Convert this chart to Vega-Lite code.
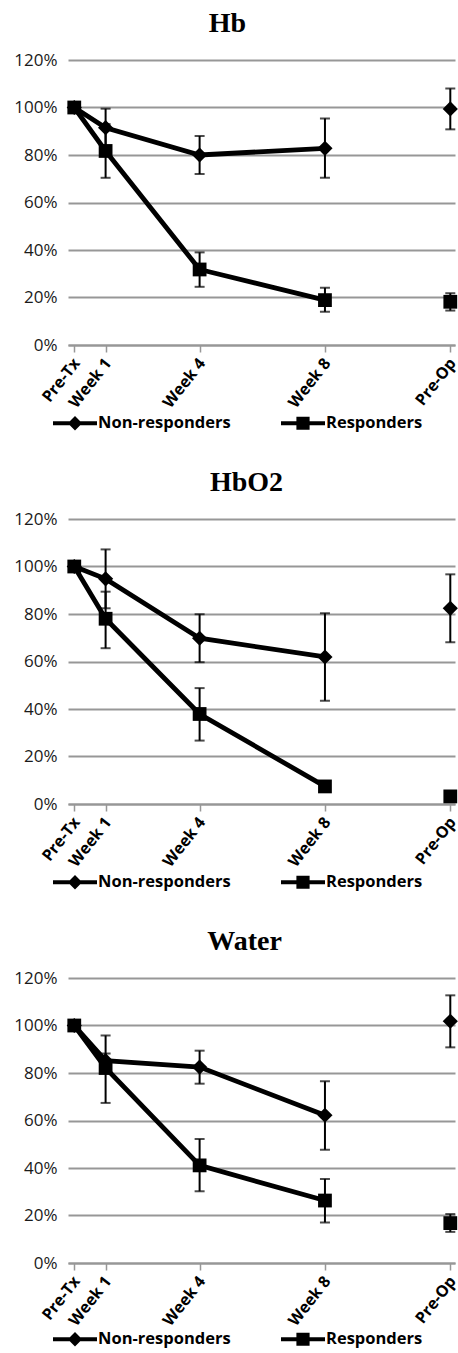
{
  "$schema": "https://vega.github.io/schema/vega-lite/v6.json",
  "padding": {"left": 8, "top": 10, "right": 3, "bottom": 0},
  "background": "white",
  "data": {"values": [
    {"panel": "Hb", "group": "Non-responders", "week": 0, "value": 1.0, "lo": null, "hi": null},
    {"panel": "Hb", "group": "Non-responders", "week": 1, "value": 0.915, "lo": 0.835, "hi": 0.995},
    {"panel": "Hb", "group": "Non-responders", "week": 4, "value": 0.80, "lo": 0.72, "hi": 0.88},
    {"panel": "Hb", "group": "Non-responders", "week": 8, "value": 0.828, "lo": 0.704, "hi": 0.954},
    {"panel": "Hb", "group": "Non-responders", "week": 12, "value": 0.994, "lo": 0.908, "hi": 1.08},
    {"panel": "Hb", "group": "Responders", "week": 0, "value": 1.0, "lo": null, "hi": null},
    {"panel": "Hb", "group": "Responders", "week": 1, "value": 0.817, "lo": 0.704, "hi": 0.93},
    {"panel": "Hb", "group": "Responders", "week": 4, "value": 0.318, "lo": 0.245, "hi": 0.39},
    {"panel": "Hb", "group": "Responders", "week": 8, "value": 0.189, "lo": 0.14, "hi": 0.241},
    {"panel": "Hb", "group": "Responders", "week": 12, "value": 0.182, "lo": 0.145, "hi": 0.218},
    {"panel": "HbO2", "group": "Non-responders", "week": 0, "value": 1.0, "lo": null, "hi": null},
    {"panel": "HbO2", "group": "Non-responders", "week": 1, "value": 0.948, "lo": 0.824, "hi": 1.072},
    {"panel": "HbO2", "group": "Non-responders", "week": 4, "value": 0.698, "lo": 0.597, "hi": 0.799},
    {"panel": "HbO2", "group": "Non-responders", "week": 8, "value": 0.619, "lo": 0.435, "hi": 0.803},
    {"panel": "HbO2", "group": "Non-responders", "week": 12, "value": 0.824, "lo": 0.681, "hi": 0.967},
    {"panel": "HbO2", "group": "Responders", "week": 0, "value": 1.0, "lo": null, "hi": null},
    {"panel": "HbO2", "group": "Responders", "week": 1, "value": 0.78, "lo": 0.656, "hi": 0.894},
    {"panel": "HbO2", "group": "Responders", "week": 4, "value": 0.379, "lo": 0.267, "hi": 0.488},
    {"panel": "HbO2", "group": "Responders", "week": 8, "value": 0.074, "lo": 0.055, "hi": 0.093},
    {"panel": "HbO2", "group": "Responders", "week": 12, "value": 0.032, "lo": 0.025, "hi": 0.039},
    {"panel": "Water", "group": "Non-responders", "week": 0, "value": 1.0, "lo": null, "hi": null},
    {"panel": "Water", "group": "Non-responders", "week": 1, "value": 0.852, "lo": 0.822, "hi": 0.882},
    {"panel": "Water", "group": "Non-responders", "week": 4, "value": 0.825, "lo": 0.755, "hi": 0.894},
    {"panel": "Water", "group": "Non-responders", "week": 8, "value": 0.622, "lo": 0.477, "hi": 0.765},
    {"panel": "Water", "group": "Non-responders", "week": 12, "value": 1.018, "lo": 0.908, "hi": 1.127},
    {"panel": "Water", "group": "Responders", "week": 0, "value": 1.0, "lo": null, "hi": null},
    {"panel": "Water", "group": "Responders", "week": 1, "value": 0.821, "lo": 0.674, "hi": 0.958},
    {"panel": "Water", "group": "Responders", "week": 4, "value": 0.411, "lo": 0.302, "hi": 0.522},
    {"panel": "Water", "group": "Responders", "week": 8, "value": 0.263, "lo": 0.171, "hi": 0.354},
    {"panel": "Water", "group": "Responders", "week": 12, "value": 0.168, "lo": 0.131, "hi": 0.206}
  ]},
  "spacing": 174,
  "bounds": "flush",
  "resolve": {"scale": {"shape": "independent", "x": "independent", "y": "independent"}, "legend": {"shape": "independent"}},
  "vconcat": [
    {
      "title": {"text": "Hb", "dx": -34},
      "width": 387, "height": 285,
      "transform": [{"filter": "datum.panel === 'Hb'"}],
      "encoding": {
        "x": {"field": "week", "type": "quantitative", "scale": {"domain": [-0.2, 12.15], "nice": false, "zero": false},
              "axis": {"values": [0, 1, 4, 8, 12], "labelExpr": "datum.value == 0 ? 'Pre-Tx' : datum.value == 12 ? 'Pre-Op' : 'Week ' + datum.value", "title": null, "grid": false}},
        "y": {"field": "value", "type": "quantitative", "scale": {"domain": [0, 1.2], "nice": false},
              "axis": {"values": [0, 0.2, 0.4, 0.6, 0.8, 1.0, 1.2], "format": ".0%", "title": null}}
      },
      "resolve": {"scale": {"shape": "independent"}},
      "layer": [
        {"transform": [{"filter": "datum.week < 12"}], "mark": {"type": "line", "color": "black", "strokeWidth": 4.8}, "encoding": {"detail": {"field": "group"}}},
        {"transform": [{"filter": "isValid(datum.lo)"}], "mark": {"type": "errorbar", "orient": "vertical", "color": "black", "rule": {"strokeWidth": 2}, "ticks": {"size": 10, "thickness": 2, "color": "black"}},
         "encoding": {"y": {"field": "lo", "type": "quantitative"}, "y2": {"field": "hi"}}},
        {"mark": {"type": "point", "filled": true, "color": "black", "opacity": 1, "size": 190},
         "encoding": {"shape": {"field": "group", "type": "nominal", "scale": {"domain": ["Non-responders", "Responders"], "range": ["M0,-1.1L1.1,0L0,1.1L-1.1,0Z", "square"]}, "legend": null}}},
        {"mark": {"type": "point", "filled": true, "color": "black", "opacity": 0, "size": 400},
         "encoding": {"shape": {"field": "group", "type": "nominal", "scale": {"domain": ["Non-responders", "Responders"], "range": ["M-2.2,-0.2H2.2V0.2H-2.2Z M0,-0.72L0.72,0L0,0.72L-0.72,0Z", "M-2.2,-0.2H2.2V0.2H-2.2Z M-0.66,-0.66H0.66V0.66H-0.66Z"]},
           "legend": {"orient": "none", "legendX": -3, "legendY": 353, "direction": "horizontal", "title": null, "symbolOpacity": 1}}}}
      ]
    },
    {
      "title": {"text": "HbO2", "dx": -15},
      "width": 387, "height": 285,
      "transform": [{"filter": "datum.panel === 'HbO2'"}],
      "encoding": {
        "x": {"field": "week", "type": "quantitative", "scale": {"domain": [-0.2, 12.15], "nice": false, "zero": false},
              "axis": {"values": [0, 1, 4, 8, 12], "labelExpr": "datum.value == 0 ? 'Pre-Tx' : datum.value == 12 ? 'Pre-Op' : 'Week ' + datum.value", "title": null, "grid": false}},
        "y": {"field": "value", "type": "quantitative", "scale": {"domain": [0, 1.2], "nice": false},
              "axis": {"values": [0, 0.2, 0.4, 0.6, 0.8, 1.0, 1.2], "format": ".0%", "title": null}}
      },
      "resolve": {"scale": {"shape": "independent"}},
      "layer": [
        {"transform": [{"filter": "datum.week < 12"}], "mark": {"type": "line", "color": "black", "strokeWidth": 4.8}, "encoding": {"detail": {"field": "group"}}},
        {"transform": [{"filter": "isValid(datum.lo)"}], "mark": {"type": "errorbar", "orient": "vertical", "color": "black", "rule": {"strokeWidth": 2}, "ticks": {"size": 10, "thickness": 2, "color": "black"}},
         "encoding": {"y": {"field": "lo", "type": "quantitative"}, "y2": {"field": "hi"}}},
        {"mark": {"type": "point", "filled": true, "color": "black", "opacity": 1, "size": 190},
         "encoding": {"shape": {"field": "group", "type": "nominal", "scale": {"domain": ["Non-responders", "Responders"], "range": ["M0,-1.1L1.1,0L0,1.1L-1.1,0Z", "square"]}, "legend": null}}},
        {"mark": {"type": "point", "filled": true, "color": "black", "opacity": 0, "size": 400},
         "encoding": {"shape": {"field": "group", "type": "nominal", "scale": {"domain": ["Non-responders", "Responders"], "range": ["M-2.2,-0.2H2.2V0.2H-2.2Z M0,-0.72L0.72,0L0,0.72L-0.72,0Z", "M-2.2,-0.2H2.2V0.2H-2.2Z M-0.66,-0.66H0.66V0.66H-0.66Z"]},
           "legend": {"orient": "none", "legendX": -3, "legendY": 353, "direction": "horizontal", "title": null, "symbolOpacity": 1}}}}
      ]
    },
    {
      "title": {"text": "Water", "dx": -17},
      "width": 387, "height": 285,
      "transform": [{"filter": "datum.panel === 'Water'"}],
      "encoding": {
        "x": {"field": "week", "type": "quantitative", "scale": {"domain": [-0.2, 12.15], "nice": false, "zero": false},
              "axis": {"values": [0, 1, 4, 8, 12], "labelExpr": "datum.value == 0 ? 'Pre-Tx' : datum.value == 12 ? 'Pre-Op' : 'Week ' + datum.value", "title": null, "grid": false}},
        "y": {"field": "value", "type": "quantitative", "scale": {"domain": [0, 1.2], "nice": false},
              "axis": {"values": [0, 0.2, 0.4, 0.6, 0.8, 1.0, 1.2], "format": ".0%", "title": null}}
      },
      "resolve": {"scale": {"shape": "independent"}},
      "layer": [
        {"transform": [{"filter": "datum.week < 12"}], "mark": {"type": "line", "color": "black", "strokeWidth": 4.8}, "encoding": {"detail": {"field": "group"}}},
        {"transform": [{"filter": "isValid(datum.lo)"}], "mark": {"type": "errorbar", "orient": "vertical", "color": "black", "rule": {"strokeWidth": 2}, "ticks": {"size": 10, "thickness": 2, "color": "black"}},
         "encoding": {"y": {"field": "lo", "type": "quantitative"}, "y2": {"field": "hi"}}},
        {"mark": {"type": "point", "filled": true, "color": "black", "opacity": 1, "size": 190},
         "encoding": {"shape": {"field": "group", "type": "nominal", "scale": {"domain": ["Non-responders", "Responders"], "range": ["M0,-1.1L1.1,0L0,1.1L-1.1,0Z", "square"]}, "legend": null}}},
        {"mark": {"type": "point", "filled": true, "color": "black", "opacity": 0, "size": 400},
         "encoding": {"shape": {"field": "group", "type": "nominal", "scale": {"domain": ["Non-responders", "Responders"], "range": ["M-2.2,-0.2H2.2V0.2H-2.2Z M0,-0.72L0.72,0L0,0.72L-0.72,0Z", "M-2.2,-0.2H2.2V0.2H-2.2Z M-0.66,-0.66H0.66V0.66H-0.66Z"]},
           "legend": {"orient": "none", "legendX": -3, "legendY": 351, "direction": "horizontal", "title": null, "symbolOpacity": 1}}}}
      ]
    }
  ],
  "config": {
    "view": {"stroke": null},
    "title": {"font": "Liberation Serif", "fontSize": 28, "fontWeight": "bold", "color": "black", "frame": "group", "anchor": "middle", "baseline": "alphabetic", "offset": 13},
    "axisY": {"grid": true, "gridColor": "#979797", "gridWidth": 2, "domain": false, "ticks": false, "labelFont": "Open Sans", "labelFontSize": 17, "labelColor": "#1a1a1a", "labelPadding": 11, "minExtent": 60, "maxExtent": 60},
    "axisX": {"domainColor": "#979797", "domainWidth": 2, "tickColor": "#979797", "tickWidth": 1.5, "tickSize": 7, "labelFont": "Open Sans", "labelFontSize": 16, "labelFontWeight": "bold", "labelColor": "black", "labelAngle": -52, "labelAlign": "right", "labelBaseline": "middle", "labelPadding": 8, "labelOffset": 2, "labelOverlap": false},
    "legend": {"labelFont": "Open Sans", "labelFontSize": 16.5, "labelFontWeight": "bold", "labelColor": "black", "symbolSize": 400, "labelOffset": 13, "columnPadding": 50, "symbolFillColor": "black", "symbolStrokeColor": "black", "symbolStrokeWidth": 0, "padding": 0}
  }
}
